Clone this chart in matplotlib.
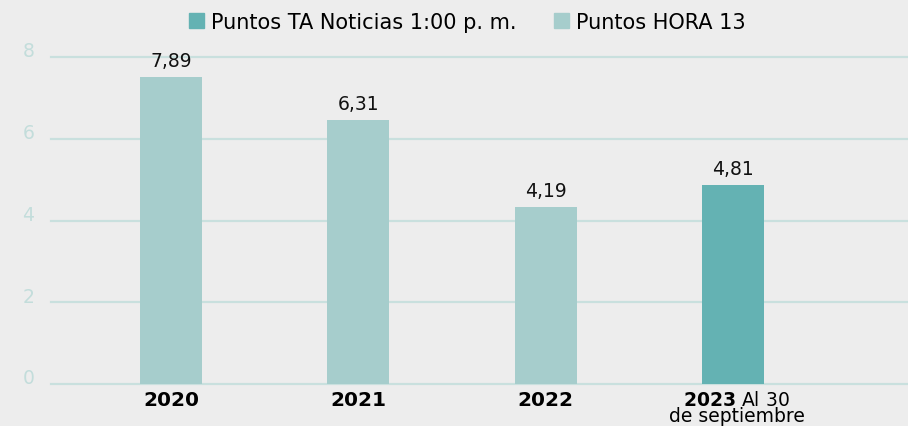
import matplotlib
matplotlib.use("Agg")
import matplotlib.pyplot as plt
from matplotlib.patches import Patch

plt.rcParams['font.family'] = ['DejaVu Sans']
plt.rcParams['mathtext.fontset'] = 'dejavusans'

categories = ["2020", "2021", "2022", "2023"]
last_note = ["Al 30", "de septiembre"]
heights = [7.51, 6.45, 4.33, 4.87]
value_labels = ["7,89", "6,31", "4,19", "4,81"]
series = ["HORA 13", "HORA 13", "HORA 13", "TA"]
legend_labels = ["Puntos TA Noticias 1:00 p. m.", "Puntos HORA 13"]
yticks = [0, 2, 4, 6, 8]

BG = "#ededed"
C_TA = "#64b2b3"
C_H13 = "#a6cdcc"
GRID = "#c9e0de"
TICKC = "#c3dddb"

fig = plt.figure(figsize=(9.08, 4.27), dpi=100, facecolor=BG)
ax = fig.add_axes([51/908, 1-385/427, 1-51/908, (385-58)/427])
ax.set_facecolor(BG)

x = list(range(len(categories)))
colors = [C_TA if s == "TA" else C_H13 for s in series]
ax.bar(x, heights, width=0.331, color=colors, zorder=3)

for xi, h, lab in zip(x, heights, value_labels):
    ax.annotate(lab, (xi, h), xytext=(0, 5), textcoords="offset points",
                ha="center", va="bottom", fontsize=13.5, color="#111111", zorder=4)

ax.set_xlim(-0.641, 3.934)
ax.set_ylim(0, 8)
ax.set_yticks([])
for t in yticks:
    ax.axhline(t, color=GRID, linewidth=1.6, zorder=0, clip_on=False)
    ax.annotate(str(t), (0, t), xycoords=("axes fraction", "data"),
                xytext=(-12, 0.5), textcoords="offset points",
                ha="right", va="baseline", fontsize=13.5, color=TICKC)
for s in ax.spines.values():
    s.set_visible(False)

ax.set_xticks([])
for xi, c in zip(x[:3], categories[:3]):
    ax.annotate(c, (xi, 0), xytext=(0, -4.5), textcoords="offset points",
                ha="center", va="top", fontsize=14.5, fontweight="bold",
                color="#000000")
label_2023 = r"$\mathbf{" + categories[3] + r"}$ " + last_note[0] + "\n" + last_note[1]
ax.annotate(label_2023, (x[3] + 0.02, 0), xytext=(0, -4), textcoords="offset points",
            ha="center", va="top", multialignment="center", linespacing=0.85,
            fontsize=13.5, color="#000000", annotation_clip=False)

handles = [Patch(color=C_TA), Patch(color=C_H13)]
fig.legend(handles, legend_labels, loc="upper center", bbox_to_anchor=(467/908, 1.0),
           ncol=2, frameon=False, fontsize=15, handlelength=0.75, handleheight=0.75,
           handletextpad=0.3, columnspacing=1.8, borderaxespad=0.2)

fig.savefig("out.png", dpi=100, facecolor=BG)
